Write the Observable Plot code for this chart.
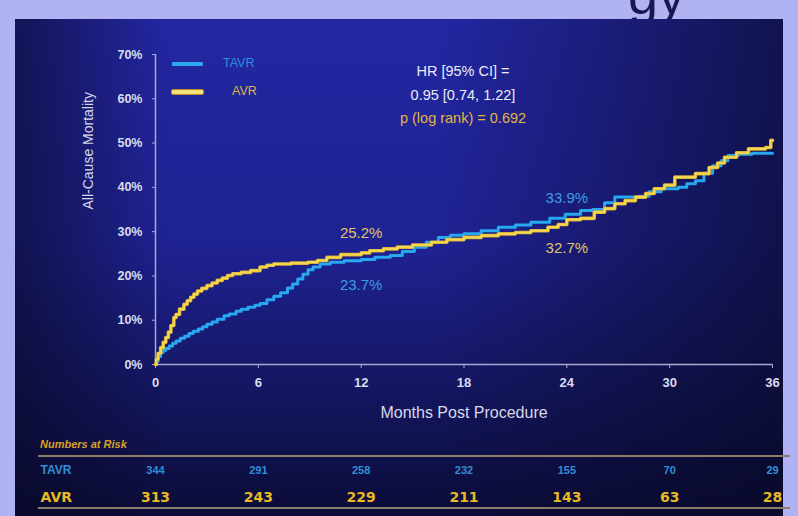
<!DOCTYPE html>
<html><head><meta charset="utf-8">
<script src="https://cdn.jsdelivr.net/npm/d3@7"></script>
<script src="https://cdn.jsdelivr.net/npm/@observablehq/plot@0.6"></script>
<style>
html,body{margin:0;padding:0;background:#b0b2f2;}
#slide{position:relative;width:798px;height:516px;overflow:hidden;background:#b0b2f2;font-family:"Liberation Sans",Arial,sans-serif;}
#panel{position:absolute;left:15px;top:19px;width:768px;height:497px;background:
 linear-gradient(to right, rgba(8,8,36,0.6) 0%, rgba(8,8,36,0) 20%, rgba(8,8,36,0) 55%, rgba(8,8,36,0.65) 100%),
 linear-gradient(to bottom, #2327a2 0%, #1f2292 45%, #10124f 85%, #0b0c38 100%);}
#title{position:absolute;left:628px;top:-32px;font-size:54px;color:#17184f;font-family:"Liberation Sans",Arial,sans-serif;line-height:1;}
#chart{position:absolute;left:0;top:0;}
#risk{position:absolute;left:0;top:430px;}
.leg{position:absolute;height:4px;width:31px;border-radius:1px;}
.legt{position:absolute;font-size:12.5px;}
.sep{position:absolute;left:38px;width:752px;height:2px;background:#8a7e68;}
#nar{position:absolute;left:40px;top:438px;font-size:11px;font-style:italic;font-weight:bold;color:#d9a02a;}
</style></head>
<body>
<div id="slide">
  <div id="title">gy</div>
  <div id="panel"></div>
  <div id="chart"></div>
  <div class="leg" style="left:172px;top:62px;background:#2aa8f0"></div>
  <div class="legt" style="left:223px;top:56px;color:#2b8fdc">TAVR</div>
  <div class="leg" style="left:172px;top:90px;background:#f6e27a;box-shadow:0 0 0 1px #b98a2a"></div>
  <div class="legt" style="left:232px;top:84px;color:#d9b246">AVR</div>
  <div id="nar">Numbers at Risk</div>
  <div class="sep" style="top:455px"></div>
  <div class="sep" style="top:507px"></div>
  <div id="risk"></div>
</div>
<script>
// ---- data ----
const xTicks = [0, 6, 12, 18, 24, 30, 36];
const yTicks = [0, 0.1, 0.2, 0.3, 0.4, 0.5, 0.6, 0.7];

const tavrMonths = [0,0.05,0.15,0.3,0.45,0.6,0.8,1.0,1.2,1.45,1.7,1.95,2.2,2.5,2.75,3.0,3.3,3.6,4.0,4.3,4.7,5.0,5.4,5.8,6.1,6.5,6.9,7.3,7.7,8.0,8.3,8.6,8.9,9.2,9.6,10.2,11.0,12.0,12.8,13.7,14.4,15.1,15.8,16.5,17.2,18.0,19.0,20.0,21.0,21.9,23.0,23.9,24.8,25.5,26.2,26.8,28.2,28.8,29.5,30.5,31.0,31.5,32.0,32.5,33.0,33.4,34.0,34.8,36.0];
const tavrPct    = [0,0.8,1.8,2.7,3.2,3.6,4.2,4.8,5.3,5.9,6.4,7.0,7.5,8.0,8.5,9.1,9.6,10.2,11.0,11.4,12.0,12.5,12.9,13.4,13.8,14.6,15.4,16.2,17.3,18.2,19.3,20.4,21.4,22.0,22.7,23.1,23.4,23.7,24.2,24.6,25.5,26.5,27.6,28.7,29.2,29.5,30.2,31.0,31.5,32.1,33.0,33.9,34.8,35.0,36.5,37.8,38.0,39.0,39.7,40.0,40.8,41.5,43.2,44.9,46.0,47.2,47.5,47.7,47.7];

const avrMonths = [0,0.05,0.15,0.3,0.45,0.6,0.75,0.9,1.07,1.2,1.4,1.66,1.85,2.05,2.24,2.45,2.7,3.0,3.3,3.6,3.9,4.2,4.5,5.0,5.55,6.1,6.5,6.9,7.9,8.9,9.45,10.0,10.8,12.0,12.5,13.3,14.1,15.0,16.1,17.0,18.0,19.0,20.0,21.0,21.9,22.9,23.5,24.0,24.8,25.6,26.2,26.8,27.4,28.0,28.6,29.1,29.7,30.3,31.5,32.3,32.8,33.2,33.9,34.6,35.6,35.9,36.0];
const avrPct    = [0,1.2,2.5,3.8,5.0,6.1,7.3,8.8,10.6,11.3,12.5,13.6,14.4,15.2,15.9,16.6,17.2,17.8,18.4,19.0,19.5,20.1,20.5,20.8,21.2,22.0,22.4,22.7,22.9,23.1,23.5,24.2,24.8,25.2,25.7,26.1,26.5,27.0,27.6,28.2,28.7,29.1,29.5,29.8,30.2,31.0,31.6,32.7,33.0,34.4,35.2,36.3,37.0,37.8,38.6,39.7,40.5,42.3,43.1,44.5,45.5,46.8,47.8,48.7,49.0,50.6,50.6];

const annotText  = ["25.2%", "23.7%", "33.9%", "32.7%"];
const annotMonth = [12, 12, 24, 24];
const annotPct   = [29.6, 17.8, 37.5, 26.2];
const annotGroup = ["AVR", "TAVR", "TAVR", "AVR"];

const statLines = ["HR [95% CI] =", "0.95 [0.74, 1.22]", "p (log rank) = 0.692"];

const riskGroups = ["TAVR", "AVR"];
const riskMonths = [0, 6, 12, 18, 24, 30, 36];
const tavrRisk = [344, 291, 258, 232, 155, 70, 29];
const avrRisk  = [313, 243, 229, 211, 143, 63, 28];

// ---- tables ----
const tavr = tavrMonths.map((m, i) => ({month: m, pct: tavrPct[i] / 100}));
const avr  = avrMonths.map((m, i) => ({month: m, pct: avrPct[i] / 100}));
const annots = annotText.map((t, i) => ({t, month: annotMonth[i], pct: annotPct[i] / 100, g: annotGroup[i]}));
const risk = riskMonths.flatMap((m, i) => [
  {g: "TAVR", month: m, n: tavrRisk[i]},
  {g: "AVR", month: m, n: avrRisk[i]}
]);

const BLUE = "#27a8f0", GOLD = "#f3d74c";
const font = "'Liberation Sans', Arial, sans-serif";

const chart = Plot.plot({
  width: 798, height: 430,
  marginLeft: 155, marginRight: 26, marginTop: 54, marginBottom: 66,
  style: {background: "transparent", color: "#dcdcef", fontFamily: font, overflow: "visible"},
  x: {domain: [0, 36]},
  y: {domain: [0, 0.7]},
  marks: [
    Plot.axisY({ticks: yTicks, tickFormat: d => Math.round(d * 100) + "%", tickSize: 3, tickPadding: 10, fontSize: 12.5, fontWeight: "bold", stroke: "#a9a9cf", label: null}),
    Plot.axisX({ticks: xTicks, tickFormat: d => String(d), tickSize: 4, tickPadding: 9, fontSize: 13, fontWeight: "bold", stroke: "#a9a9cf", label: null}),
    Plot.ruleX([0], {stroke: "#a9a9cf", strokeWidth: 1.5}),
    Plot.ruleY([0], {stroke: "#a9a9cf", strokeWidth: 1.5}),
    Plot.text(["All-Cause Mortality"], {frameAnchor: "left", dx: -67, rotate: -90, fontSize: 14, fill: "#d8d8ea"}),
    Plot.text(["Months Post Procedure"], {frameAnchor: "bottom", dy: 53, fontSize: 16, fill: "#d8d8ea"}),
    Plot.line(tavr, {x: "month", y: "pct", curve: "step-after", stroke: BLUE, strokeWidth: 3}),
    Plot.line(avr, {x: "month", y: "pct", curve: "step-after", stroke: "#d6a838", strokeWidth: 3.6}),
    Plot.line(avr, {x: "month", y: "pct", curve: "step-after", stroke: GOLD, strokeWidth: 2.2}),
    Plot.text(annots, {x: "month", y: "pct", text: "t", fontSize: 15, fill: d => d.g === "AVR" ? "#e2c46a" : "#3c9ee2"}),
    Plot.text([statLines[0]], {frameAnchor: "top", dx: -1, dy: 11, fontSize: 14.5, fill: "#ececf6"}),
    Plot.text([statLines[1]], {frameAnchor: "top", dx: -1, dy: 35, fontSize: 14.5, fill: "#ececf6"}),
    Plot.text([statLines[2]], {frameAnchor: "top", dx: -1, dy: 58, fontSize: 14.5, fill: "#e3b443"})
  ]
});
document.getElementById("chart").appendChild(chart);

const riskPlot = Plot.plot({
  width: 798, height: 86,
  marginLeft: 155, marginRight: 26, marginTop: 40, marginBottom: 19,
  style: {background: "transparent", fontFamily: font, overflow: "visible"},
  x: {domain: [0, 36], axis: null},
  y: {type: "point", domain: riskGroups, padding: 0, axis: null},
  marks: [
    Plot.text(risk.filter(d => d.g === "TAVR"), {x: "month", y: "g", text: "n", fontSize: 11, fontWeight: "bold", fill: "#2f8fd6"}),
    Plot.text(risk.filter(d => d.g === "AVR"), {x: "month", y: "g", text: "n", fontSize: 14, fontWeight: "bold", fill: "#e9b924", fontFamily: "'DejaVu Sans', sans-serif"}),
    Plot.text(["TAVR"], {y: d => d, frameAnchor: "left", dx: -115, textAnchor: "start", fontSize: 12, fontWeight: "bold", fill: "#2f8fd6"}),
    Plot.text(["AVR"], {y: d => d, frameAnchor: "left", dx: -115, textAnchor: "start", fontSize: 14, fontWeight: "bold", fill: "#e9b924", fontFamily: "'DejaVu Sans', sans-serif"})
  ]
});
document.getElementById("risk").appendChild(riskPlot);
</script>
</body></html>
